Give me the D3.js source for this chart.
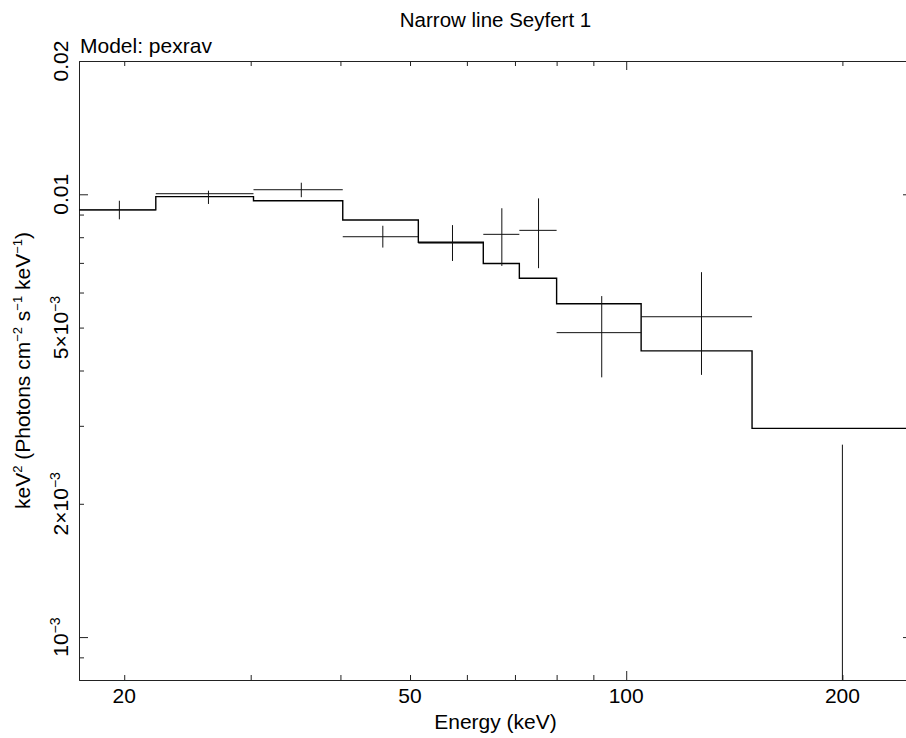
<!DOCTYPE html>
<html>
<head>
<meta charset="utf-8">
<script src="https://cdn.jsdelivr.net/npm/d3@7"></script>
<style>
  body { margin: 0; background: #fff; }
  svg { display: block; font-family: Arial, "Liberation Sans", Helvetica, sans-serif; }
  .axis path, .axis line { stroke: #222; }
</style>
</head>
<body>
<div id="chart"></div>
<script>
'use strict';

// Spectrum bins (keV)
const binLo = [17.25, 22.13, 30.27, 40.30, 51.35, 63.24, 70.99, 80.00, 104.9, 149.7];
const binHi = [22.13, 30.27, 40.30, 51.35, 63.24, 70.99, 80.00, 104.9, 149.7, 250.3];

// Unfolded data points with error bounds
const dataVal = [0.00922, 0.01003, 0.01024, 0.00802, 0.00776, 0.00812, 0.00829, 0.00487, 0.00529, 0.0004];
const dataLo  = [0.00878, 0.00951, 0.00985, 0.00758, 0.00707, 0.00689, 0.00681, 0.00386, 0.00391, 0.0001];
const dataHi  = [0.00967, 0.01019, 0.01062, 0.00849, 0.00852, 0.00930, 0.00979, 0.00589, 0.00667, 0.00272];

// Model (pexrav) folded per bin
const modelVal = [0.00922, 0.00988, 0.00967, 0.00875, 0.00779, 0.00698, 0.00646, 0.00566, 0.00443, 0.00296];

// Ticks
const xMajor = [100];
const xMinor = [20, 30, 40, 50, 60, 70, 80, 90, 200];
const xLabels = [20, 50, 100, 200];
const yMajor = [0.001, 0.01];
const yMinor = [0.0009, 0.002, 0.003, 0.004, 0.005, 0.006, 0.007, 0.008, 0.009];
const yLabels = [0.001, 0.002, 0.005, 0.01, 0.02];

const width = 906, height = 738;
const margin = { left: 79, right: 912, top: 61, bottom: 680 };

const svg = d3.select('#chart').append('svg')
    .attr('width', width)
    .attr('height', height);

const x = d3.scaleLog().domain([17.3, 250]).range([margin.left, margin.right]);
const y = d3.scaleLog().domain([0.0008, 0.02]).range([margin.bottom, margin.top]);

// Axes: minor (short) and major (long) ticks, pointing inward, on all four sides
function drawAxes(minor, major, axisFn, scale, translate){
    svg.append('g').classed('axis', true)
        .attr('transform', translate)
        .call(axisFn(scale).tickValues(minor).tickSize(-5).tickSizeOuter(0).tickFormat(''));
    svg.append('g').classed('axis', true)
        .attr('transform', translate)
        .call(axisFn(scale).tickValues(major).tickSize(-9).tickSizeOuter(0).tickFormat(''));
}
drawAxes(xMinor, xMajor, d3.axisBottom, x, `translate(0,${margin.bottom})`);
drawAxes(xMinor, xMajor, d3.axisTop, x, `translate(0,${margin.top})`);
drawAxes(yMinor, yMajor, d3.axisLeft, y, `translate(${margin.left},0)`);
drawAxes(yMinor, yMajor, d3.axisRight, y, `translate(${margin.right},0)`);

// X tick labels
svg.append('g').selectAll('text')
    .data(xLabels)
    .join('text')
    .attr('x', d => x(d))
    .attr('y', 703)
    .attr('text-anchor', 'middle')
    .attr('font-size', 21)
    .text(d => d);

// Y tick labels (rotated, with superscripts)
const yLab = svg.append('g').selectAll('text')
    .data(yLabels)
    .join('text')
    .attr('transform', d => `translate(68,${y(d)}) rotate(-90)`)
    .attr('text-anchor', 'middle')
    .attr('font-size', 21);

yLab.each(function(d){
    const t = d3.select(this);
    if (d >= 0.01){
        t.text(d3.format('.2f')(d));
        return;
    }
    const m = Math.round(d / 0.001);
    t.append('tspan').text(m === 1 ? '10' : `${m}×10`);
    t.append('tspan').attr('dy', -8).attr('font-size', 14).text('−3');
});

// Clip to plotting area
svg.append('clipPath').attr('id', 'plot-clip')
    .append('rect')
    .attr('x', margin.left).attr('y', margin.top)
    .attr('width', margin.right - margin.left).attr('height', margin.bottom - margin.top);

const plot = svg.append('g').attr('clip-path', 'url(#plot-clip)');

// Model step histogram
const stepPts = binLo.map((lo, i) => [lo, modelVal[i]]);
stepPts.push([binHi[binHi.length - 1], modelVal[modelVal.length - 1]]);

plot.append('path')
    .datum(stepPts)
    .attr('fill', 'none')
    .attr('stroke', '#000')
    .attr('stroke-width', 1.4)
    .attr('d', d3.line()
        .x(d => x(d[0]))
        .y(d => y(d[1]))
        .curve(d3.curveStepAfter));

// Data crosses
const pts = binLo.map((lo, i) => ({
    lo, hi: binHi[i], c: (lo + binHi[i]) / 2,
    v: dataVal[i], vlo: dataLo[i], vhi: dataHi[i]
}));

const cross = plot.append('g')
    .attr('stroke', '#111')
    .attr('stroke-width', 1)
    .selectAll('g')
    .data(pts)
    .join('g');

cross.append('line')
    .attr('x1', d => x(d.lo)).attr('x2', d => x(d.hi))
    .attr('y1', d => y(d.v)).attr('y2', d => y(d.v));

cross.append('line')
    .attr('x1', d => x(d.c)).attr('x2', d => x(d.c))
    .attr('y1', d => y(d.vlo)).attr('y2', d => y(d.vhi));

// Titles
svg.append('text')
    .attr('x', (margin.left + margin.right) / 2)
    .attr('y', 27)
    .attr('text-anchor', 'middle')
    .attr('font-size', 20.5)
    .text('Narrow line Seyfert 1');

svg.append('text')
    .attr('x', 80)
    .attr('y', 53)
    .attr('font-size', 21)
    .text('Model: pexrav');

svg.append('text')
    .attr('x', (margin.left + margin.right) / 2)
    .attr('y', 729)
    .attr('text-anchor', 'middle')
    .attr('font-size', 21)
    .text('Energy (keV)');

// Y axis title with superscripts
const yTitle = svg.append('text')
    .attr('transform', `translate(30,${(margin.top + margin.bottom) / 2}) rotate(-90)`)
    .attr('text-anchor', 'middle')
    .attr('font-size', 21);

const parts = [['keV', '2'], [' (Photons cm', '−2'], [' s', '−1'], [' keV', '−1'], [')', null]];
let shift = 0;
parts.forEach(([base, sup]) => {
    yTitle.append('tspan').attr('dy', shift).text(base);
    shift = 0;
    if (sup){
        yTitle.append('tspan').attr('dy', -8).attr('font-size', 13).text(sup);
        shift = 8;
    }
});
</script>
</body>
</html>
